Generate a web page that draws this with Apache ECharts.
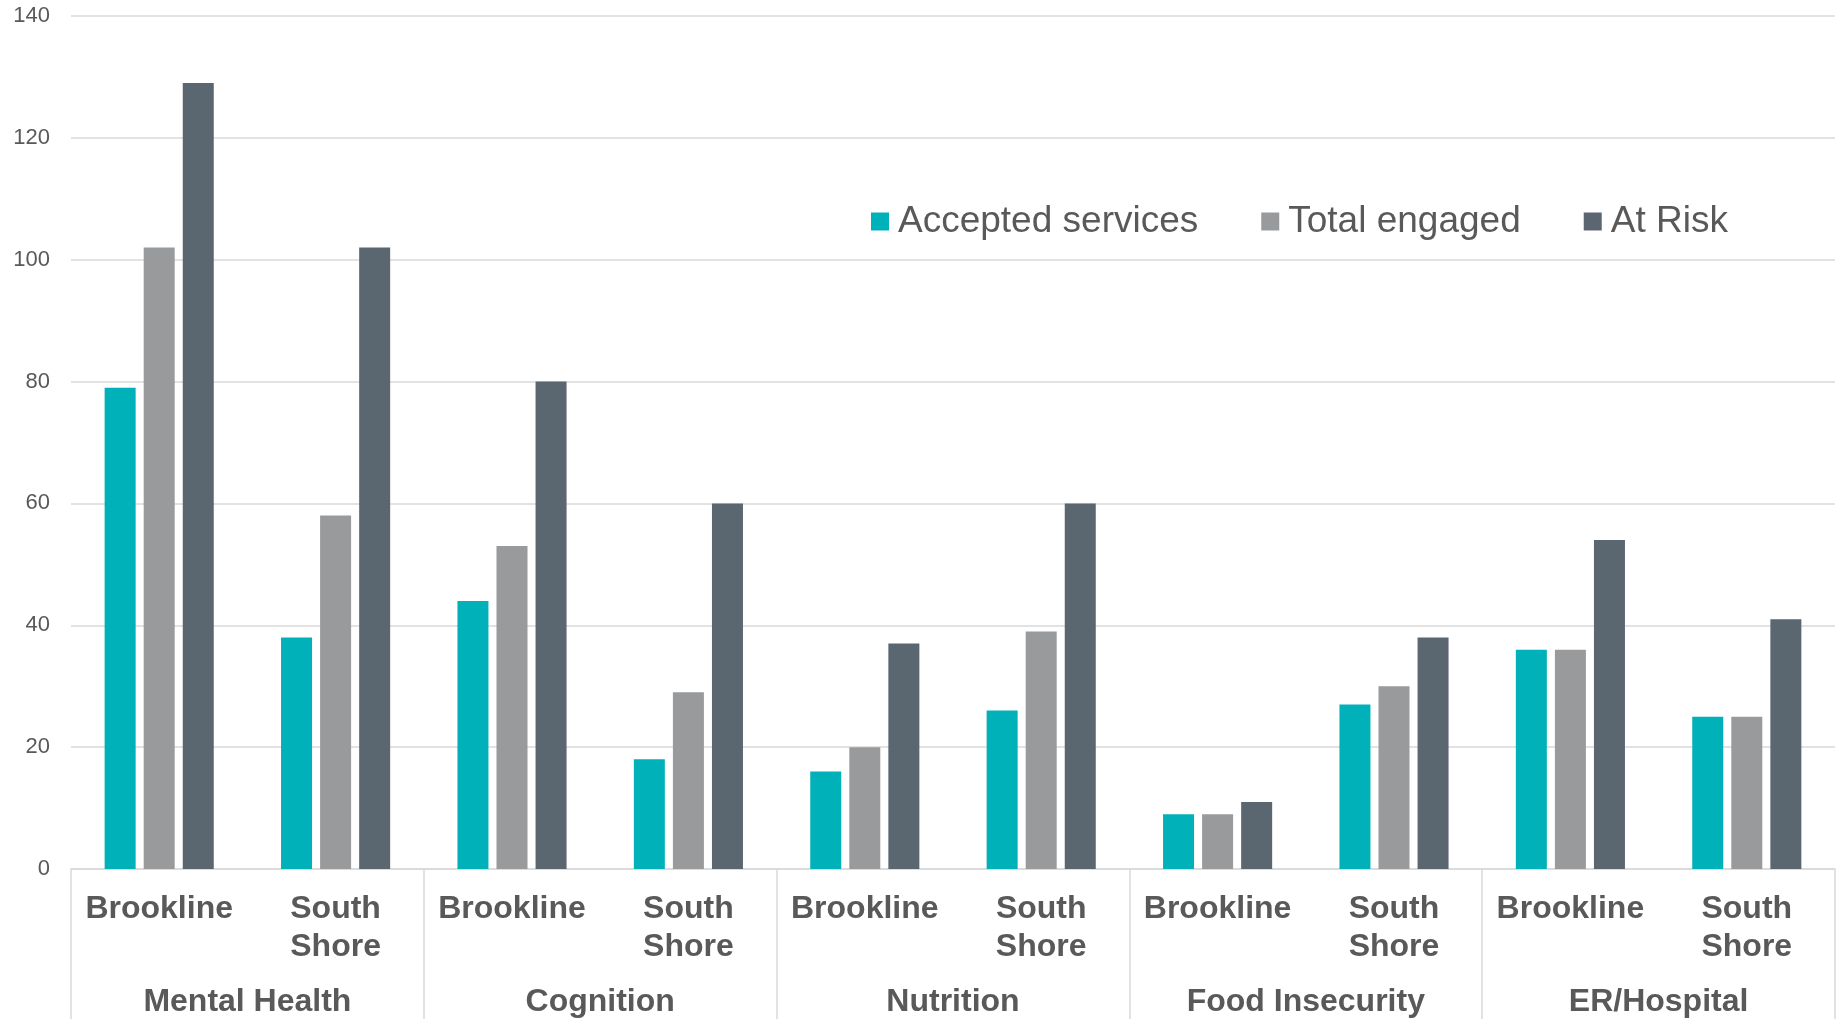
<!DOCTYPE html>
<html>
<head>
<meta charset="utf-8">
<script src="https://cdn.jsdelivr.net/npm/echarts@6/dist/echarts.min.js"></script>
<style>
html,body{margin:0;padding:0;background:#fff;}
#chart{width:1839px;height:1019px;}
</style>
</head>
<body>
<div id="chart"></div>
<script>
const subCategories = ['Brookline','South\nShore','Brookline','South\nShore','Brookline','South\nShore','Brookline','South\nShore','Brookline','South\nShore'];
const groups = ['Mental Health','Cognition','Nutrition','Food Insecurity','ER/Hospital'];
const seriesNames = ['Accepted services','Total engaged','At Risk'];
const accepted = [79,38,44,18,16,26,9,27,36,25];
const engaged = [102,58,53,29,20,39,9,30,36,25];
const atRisk = [129,102,80,60,37,60,11,38,54,41];
const yTicks = [0,20,40,60,80,100,120,140];

const colors = ['#00B1B9','#999A9C','#5A6670'];
const font = '"Liberation Sans", Arial, sans-serif';

const chart = echarts.init(document.getElementById('chart'), null, {renderer:'canvas'});
const option = {
  animation: false,
  color: colors,
  grid: {left: 71, right: 4, top: 16, bottom: 150, containLabel: false},
  legend: {
    data: seriesNames,
    left: 871,
    top: 203,
    padding: 0,
    icon: 'rect',
    itemWidth: 18,
    itemHeight: 18,
    itemGap: 63,
    textStyle: {fontFamily: font, fontSize: 37, color: '#595959', padding: [0,0,0,4]}
  },
  xAxis: [
    {
      type: 'category',
      data: subCategories,
      position: 'bottom',
      axisLine: {show: true, lineStyle: {color: '#d9d9d9', width: 1.5}},
      axisTick: {show: false},
      axisLabel: {
        interval: 0, margin: 21, verticalAlign: 'top',
        fontFamily: font, fontSize: 32, fontWeight: 'bold', color: '#595959', lineHeight: 38
      }
    },
    {
      type: 'category',
      data: groups,
      position: 'bottom',
      axisLine: {show: false},
      axisTick: {show: true, length: 150, interval: 0, lineStyle: {color: '#d9d9d9', width: 1.5}},
      axisLabel: {
        interval: 0, margin: 117, verticalAlign: 'top',
        fontFamily: font, fontSize: 32, fontWeight: 'bold', color: '#595959', lineHeight: 32
      }
    }
  ],
  yAxis: {
    type: 'value',
    min: yTicks[0],
    max: yTicks[yTicks.length-1],
    interval: 20,
    axisLine: {show: false},
    axisTick: {show: false},
    splitLine: {lineStyle: {color: '#d9d9d9', width: 1.5}},
    axisLabel: {margin: 21, fontFamily: font, fontSize: 22, color: '#595959'}
  },
  series: [
    {name: seriesNames[0], type: 'bar', xAxisIndex: 0, data: accepted, barWidth: 31, barGap: '26%'},
    {name: seriesNames[1], type: 'bar', xAxisIndex: 0, data: engaged, barWidth: 31, barGap: '26%'},
    {name: seriesNames[2], type: 'bar', xAxisIndex: 0, data: atRisk, barWidth: 31, barGap: '26%'}
  ]
};
chart.setOption(option);
</script>
</body>
</html>
